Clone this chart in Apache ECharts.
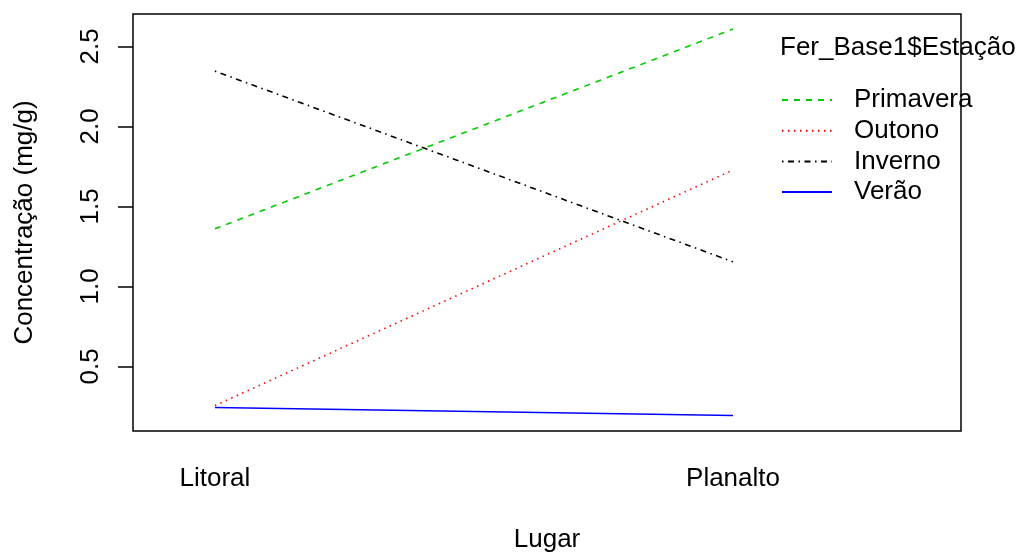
<!DOCTYPE html>
<html>
<head>
<meta charset="utf-8">
<script src="https://cdn.jsdelivr.net/npm/echarts@6/dist/echarts.min.js"></script>
<style>
html,body{margin:0;padding:0;background:#fff;}
#chart{width:1019px;height:556px;}
</style>
</head>
<body>
<div id="chart"></div>
<script>
// Data
var lugares = ['Litoral', 'Planalto'];
var estacoes = ['Primavera', 'Outono', 'Inverno', 'Verão'];
var primavera = [1.36, 2.609];
var outono = [0.255, 1.728];
var inverno = [2.346, 1.154];
var verao = [0.243, 0.193];
var yTicks = [0.5, 1.0, 1.5, 2.0, 2.5];
var xTicks = [1, 2];

var FONT = '"Liberation Sans", Arial, sans-serif';
var FS = 26;

function pts(vals) {
  return vals.map(function (v, i) { return [xTicks[i], v]; });
}

var seriesDefs = [
  { name: estacoes[0], vals: primavera, color: '#00CD00', type: [6, 6] },
  { name: estacoes[1], vals: outono, color: '#FF0000', type: [1.5, 4.5] },
  { name: estacoes[2], vals: inverno, color: '#000000', type: [1.5, 4.5, 6, 4.5] },
  { name: estacoes[3], vals: verao, color: '#0000FF', type: 'solid' }
];

var chart = echarts.init(document.getElementById('chart'), null, { renderer: 'canvas' });
chart.setOption({
  animation: false,
  backgroundColor: '#ffffff',
  textStyle: { fontFamily: FONT, color: '#000' },
  title: {
    text: 'Fer_Base1$Estação',
    left: 780,
    top: 35,
    padding: 0,
    textStyle: { fontFamily: FONT, fontSize: FS, fontWeight: 'normal', color: '#000' }
  },
  legend: {
    orient: 'vertical',
    left: 781,
    top: 87,
    padding: 0,
    itemWidth: 50,
    itemHeight: 14,
    itemGap: 4.7,
    data: estacoes,
    itemStyle: { opacity: 0 },
    textStyle: { fontFamily: FONT, fontSize: FS, color: '#000', lineHeight: 25, padding: [0, 0, 0, 17] }
  },
  grid: {
    left: 133, right: 58, top: 14, bottom: 125,
    show: true, borderColor: '#000', borderWidth: 1.5, backgroundColor: 'transparent',
    containLabel: false, outerBoundsMode: 'none'
  },
  xAxis: {
    type: 'value',
    min: 0.842,
    max: 2.44,
    name: 'Lugar',
    nameLocation: 'middle',
    nameGap: 96,
    nameTextStyle: { fontFamily: FONT, fontSize: FS, color: '#000' },
    axisLine: { show: false },
    axisTick: { show: false },
    splitLine: { show: false },
    axisLabel: {
      customValues: xTicks,
      margin: 35,
      fontFamily: FONT, fontSize: FS, color: '#000',
      formatter: function (v) { return lugares[Math.round(v) - 1] || ''; }
    }
  },
  yAxis: {
    type: 'value',
    min: 0.0965,
    max: 2.703,
    name: 'Concentração (mg/g)',
    nameLocation: 'middle',
    nameRotate: 90,
    nameGap: 95,
    nameTextStyle: { fontFamily: FONT, fontSize: FS, color: '#000' },
    axisLine: { show: false },
    splitLine: { show: false },
    axisTick: {
      show: true, inside: false, length: 15,
      customValues: yTicks,
      lineStyle: { color: '#000', width: 1.5 }
    },
    axisLabel: {
      customValues: yTicks,
      rotate: 90,
      margin: 29,
      fontFamily: FONT, fontSize: FS, color: '#000',
      formatter: function (v) { return v.toFixed(1); }
    }
  },
  series: seriesDefs.map(function (s) {
    return {
      name: s.name,
      type: 'line',
      data: pts(s.vals),
      symbol: 'none',
      showSymbol: false,
      itemStyle: { color: s.color },
      lineStyle: { color: s.color, width: 1.6, type: s.type },
      emphasis: { disabled: true }
    };
  })
});
</script>
</body>
</html>
